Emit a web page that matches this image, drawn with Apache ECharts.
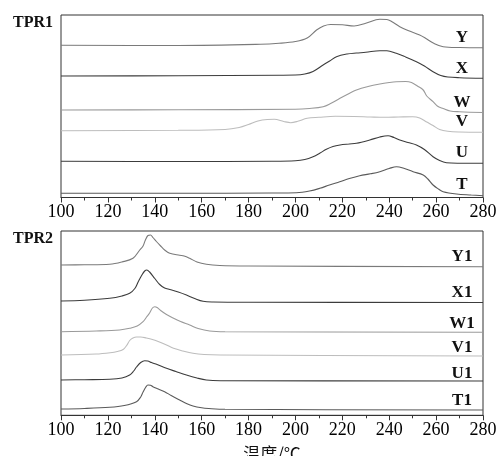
<!DOCTYPE html>
<html>
<head>
<meta charset="utf-8">
<script src="https://cdn.jsdelivr.net/npm/echarts@6.0.0/dist/echarts.min.js"></script>
<style>
  html, body { margin: 0; padding: 0; background: #fff; }
  #chart { width: 501px; height: 456px; }
</style>
</head>
<body>
<div id="chart"></div>
<script>
// x ticks
const xTicks = [100, 120, 140, 160, 180, 200, 220, 240, 260, 280]

// TPR1 traces: [temperature, stacked signal]
const tpr1Y = [[100,152.2],[150,152],[185,153.2],[193,154.2],[200,156],[205,159.5],[209,167.5],[212,171.5],[215,173],[220,172.7],[225,171.5],[230,174.2],[236,178.2],[239,178],[241,176],[244.5,170.8],[248,167],[253,162.5],[256,158.5],[259,154.2],[263,150.8],[270,150],[280,149.8]]
const tpr1X = [[100,121.5],[150,121.7],[193,122.3],[200,122.5],[204,123.5],[207.5,126],[211.8,132.5],[214.6,136.5],[217.5,140.8],[222,143.5],[226,144.5],[230,145.2],[236,146.8],[239,146.8],[243,144.2],[247,140.5],[251.6,135.8],[255,131.5],[258.7,125.8],[262,122],[265,120.5],[270,119.8],[280,119.2]]
const tpr1W = [[100,87.5],[150,87.7],[200,88.2],[206,89],[211.8,90.8],[215,94],[219,99.2],[222.5,103.5],[226,107.5],[231,111],[236,113.5],[240,115],[243,115.8],[247,116],[249.5,115],[252,111.5],[254.5,107.5],[256,101.5],[258.7,95.8],[260.5,91.5],[263,89],[266,86.5],[270,85.8],[280,85]]
const tpr1V = [[100,66.8],[150,67.2],[170,68],[176,70],[180,73],[184,76.5],[188,78],[191,78.2],[195,76],[198,74.8],[201,76.2],[205,79.2],[210,80.2],[217,81.2],[225,81],[232,80.5],[238,80.2],[244,80.5],[250,80.8],[253,79.5],[256,75.5],[258.7,72],[261.5,68],[265,66.2],[270,65.5],[280,65.2]]
const tpr1U = [[100,36.2],[150,36],[190,36.3],[200,36.8],[204,38],[207.5,40.8],[210.5,44.5],[213.2,48.2],[216,51],[219,52.5],[223,53.5],[226,54.2],[231.7,57.5],[236,60.5],[239.5,61.8],[242,60],[244.5,57.5],[248,55],[251.6,52.5],[255,48],[258.7,40.8],[261.5,37],[264.4,34.8],[270,34.3],[280,34.2]]
const tpr1T = [[100,4.2],[150,4.2],[190,4.5],[200.4,4.8],[206,6.5],[210.4,9.2],[214.5,12.5],[218.9,15.8],[223,19],[227.4,21.8],[232,23.7],[236,25.8],[240,29],[243.1,30.8],[246.5,29],[250.2,25.8],[254.5,22.5],[256.5,18.5],[258.7,12.5],[261,8.5],[263,5.8],[268.7,3.5],[275,2.5],[280,1.8]]

// TPR2 traces
const tpr2Y1 = [[100,150.3],[110,150.5],[120.8,151],[126,153.3],[130.7,157],[133.6,165.3],[135,169.3],[136,175.3],[137.1,179.8],[138.2,180.3],[139.2,177.8],[140.7,173.8],[142.5,169.3],[144.2,165.3],[146.4,162],[150.6,160],[152.5,159.3],[154.9,157],[158,153.3],[162,151],[167.7,149.8],[180,149.3],[280,148.6]]
const tpr2X1 = [[100,114.3],[110,115],[120.8,117],[126,119.3],[129.3,122],[131.5,126.8],[132.9,133.3],[134.5,140.3],[135.7,144.3],[136.6,145.3],[137.8,143.3],[140,136.8],[142.1,130.8],[144.2,127.3],[146.4,125.8],[150,123.3],[153.5,120.3],[157,116.8],[160.6,114],[165,113.3],[180,113],[280,112.8]]
const tpr2W1 = [[100,83.6],[115,84.3],[125,85.3],[129.3,87],[132.5,89.3],[135,93.6],[136.5,98.3],[137.8,102.3],[139,107.3],[140,108.6],[141,107.8],[142.5,104.8],[145,100.8],[147.8,97.3],[151,93.8],[154.9,90.3],[158.5,86.8],[163.4,84.3],[170,83.6],[280,83]]
const tpr2V1 = [[100,60.3],[115,61.3],[121,62.6],[124,63.8],[126.5,65.8],[128,69.8],[129.3,74.8],[130.7,77.3],[132.2,78.3],[134,78.3],[136.4,77.3],[139,75.8],[142,73.3],[145,70.3],[148,67],[152,64.3],[156.3,62],[161,60.8],[168,60.3],[280,59.3]]
const tpr2U1 = [[100,35.3],[110,35.6],[120.8,36],[126,37.3],[129.3,40.3],[131,44.3],[132.2,48.3],[134,52.8],[135.7,54.6],[137,54.3],[138.6,52.8],[141,50.8],[145,47],[149,43.8],[153.5,40.3],[158,37.3],[162,35.3],[168,34.6],[280,34.3]]
const tpr2T1 = [[100,6.3],[110,6.8],[120.8,8],[127,9.8],[132.2,13.6],[134,18.3],[135,23.3],[136.2,28.3],[137.1,30.3],[138.2,30],[139.2,28.6],[141.5,26.3],[144.2,23.6],[147,19.8],[150.6,15.3],[153.5,11.8],[156.3,9.3],[160,7.5],[163,6.8],[170,6],[280,5.3]]

const tpr1Names = ['Y', 'X', 'W', 'V', 'U', 'T']
const tpr2Names = ['Y1', 'X1', 'W1', 'V1', 'U1', 'T1']
const lineColors = ['#7a7a7a', '#3c3c3c', '#9a9a9a', '#bdbdbd', '#3c3c3c', '#5a5a5a']

const chart = echarts.init(document.getElementById('chart'))

const serif = '"Liberation Serif", "DejaVu Serif", serif'

function xAxisFor(gridIndex, name) {
  return {
    type: 'value',
    gridIndex: gridIndex,
    min: 100,
    max: 280,
    interval: 20,
    name: name,
    nameLocation: 'middle',
    nameGap: 30,
    nameTextStyle: { fontFamily: '"Noto Sans CJK SC"', fontSize: 17, color: '#111' },
    axisLine: { onZero: false, lineStyle: { color: '#333', width: 1 } },
    axisTick: { show: true, inside: false, length: 5, lineStyle: { color: '#333' } },
    minorTick: { show: true, splitNumber: 2, length: 3, lineStyle: { color: '#333' } },
    splitLine: { show: false },
    axisLabel: {
      margin: 6,
      fontFamily: serif,
      fontSize: 18,
      color: '#000',
      formatter: v => (xTicks.indexOf(v) >= 0 ? String(v) : '')
    }
  }
}

function yAxisFor(gridIndex, max) {
  return {
    type: 'value',
    gridIndex: gridIndex,
    min: 0,
    max: max,
    axisLine: { show: false },
    axisTick: { show: false },
    axisLabel: { show: false },
    splitLine: { show: false }
  }
}

const topSets = [tpr1Y, tpr1X, tpr1W, tpr1V, tpr1U, tpr1T]
const botSets = [tpr2Y1, tpr2X1, tpr2W1, tpr2V1, tpr2U1, tpr2T1]

const series = []
topSets.forEach((d, i) => {
  series.push({
    name: tpr1Names[i],
    type: 'line',
    xAxisIndex: 0,
    yAxisIndex: 0,
    data: d,
    showSymbol: false,
    smooth: 0.35,
    lineStyle: { color: lineColors[i], width: 1.1 }
  })
})
botSets.forEach((d, i) => {
  series.push({
    name: tpr2Names[i],
    type: 'line',
    xAxisIndex: 1,
    yAxisIndex: 1,
    data: d,
    showSymbol: false,
    smooth: 0.35,
    lineStyle: { color: lineColors[i], width: 1.1 }
  })
})

// trace label positions (y centre in px)
const topLabelY = [37.5, 69, 102.5, 121.5, 152.5, 185]
const botLabelY = [257, 293, 324, 347.5, 373.5, 401]

const labelStyle = { fontFamily: serif, fontSize: 17, fontWeight: 'bold', fill: '#111' }
const graphic = []
tpr1Names.forEach((n, i) => {
  graphic.push({ type: 'text', x: 462, y: topLabelY[i], style: Object.assign({ text: n, align: 'center', verticalAlign: 'middle' }, labelStyle) })
})
tpr2Names.forEach((n, i) => {
  graphic.push({ type: 'text', x: 462, y: botLabelY[i], style: Object.assign({ text: n, align: 'center', verticalAlign: 'middle' }, labelStyle) })
})
graphic.push({ type: 'text', x: 13, y: 23, style: Object.assign({ text: 'TPR1', verticalAlign: 'middle' }, labelStyle, { fontSize: 16 }) })
graphic.push({ type: 'text', x: 13, y: 239, style: Object.assign({ text: 'TPR2', verticalAlign: 'middle' }, labelStyle, { fontSize: 16 }) })

chart.setOption({
  animation: false,
  backgroundColor: '#fff',
  grid: [
    { left: 61, right: 18, top: 15, height: 182.5, outerBoundsMode: 'none', show: true, borderColor: '#333', borderWidth: 1, backgroundColor: 'transparent' },
    { left: 61, right: 18, top: 231, height: 184.3, outerBoundsMode: 'none', show: true, borderColor: '#333', borderWidth: 1, backgroundColor: 'transparent' }
  ],
  xAxis: [xAxisFor(0, ''), xAxisFor(1, '温度/℃')],
  yAxis: [yAxisFor(0, 182.5), yAxisFor(1, 184.3)],
  series: series,
  graphic: graphic
})
</script>
</body>
</html>
